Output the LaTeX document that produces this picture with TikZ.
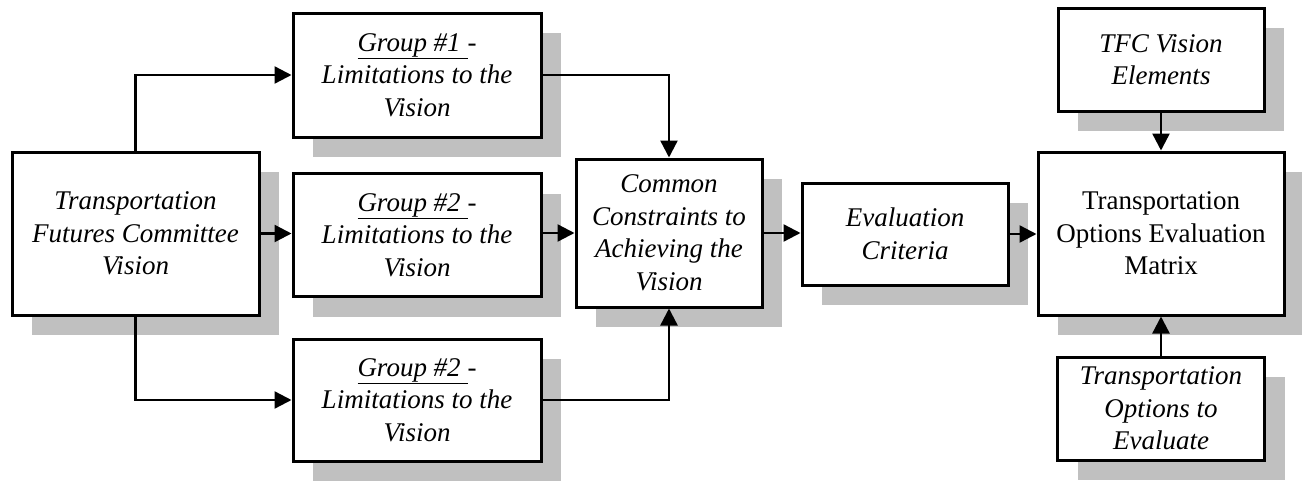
\documentclass[tikz,border=0pt]{standalone}
\usepackage{fontspec}
\setmainfont{Liberation Serif}
\usetikzlibrary{arrows.meta,shadows}
\definecolor{shadowgray}{RGB}{192,192,192}
\begin{document}
\begin{tikzpicture}[x=1pt,y=-1pt,
  box/.style={draw=black, line width=3pt, fill=white, align=center,
    inner sep=2pt, font=\fontsize{27}{32.5}\selectfont\itshape,
    general shadow={shadow xshift=20pt, shadow yshift=-20pt, fill=shadowgray}},
  plain/.style={font=\fontsize{27}{32.5}\selectfont\upshape},
  link/.style={line width=2.4pt, -{Triangle[length=17pt,width=17pt]}}]
\useasboundingbox (0,0) rectangle (1302,480);
\clip (0,0) rectangle (1302,480);

% source vision
\node[box, minimum width=247pt, minimum height=163pt] (tfc) at (135.5,233.5)
  {Transportation\\Futures Committee\\Vision};

% group limitation boxes
\node[box, minimum width=248pt, minimum height=124pt] (g1) at (417,75)
  {\underline{Group \#1\ }-\\Limitations to the\\Vision};
\node[box, minimum width=248pt, minimum height=123pt] (g2) at (417,235)
  {\underline{Group \#2\ }-\\Limitations to the\\Vision};
\node[box, minimum width=248pt, minimum height=122pt] (g3) at (417,400)
  {\underline{Group \#2\ }-\\Limitations to the\\Vision};

% merging steps
\node[box, minimum width=186pt, minimum height=148pt] (common) at (669,233)
  {Common\\Constraints to\\Achieving the\\Vision};
\node[box, minimum width=206pt, minimum height=102pt] (eval) at (905,234)
  {Evaluation\\Criteria};

% right column
\node[box, plain, minimum width=246pt, minimum height=163pt] (matrix) at (1161,233.5)
  {Transportation\\Options Evaluation\\Matrix};
\node[box, minimum width=206pt, minimum height=103pt] (tfcel) at (1161,59.5)
  {TFC Vision\\Elements};
\node[box, minimum width=207pt, minimum height=103pt] (opts) at (1161,408.5)
  {Transportation\\Options to\\Evaluate};

% connectors
\draw[link] (tfc.north) |- (g1.west);
\draw[link] (tfc.east) -- (tfc.east -| g2.west);
\draw[link] (tfc.south) |- (g3.west);
\draw[link] (g1.east) -| (common.north);
\draw[link] (g2.east |- common.west) -- (common.west);
\draw[link] (g3.east) -| (common.south);
\draw[link] (common.east) -- (common.east -| eval.west);
\draw[link] (eval.east) -- (eval.east -| matrix.west);
\draw[link] (tfcel.south) -- (matrix.north);
\draw[link] (opts.north) -- (matrix.south);
\end{tikzpicture}
\end{document}
